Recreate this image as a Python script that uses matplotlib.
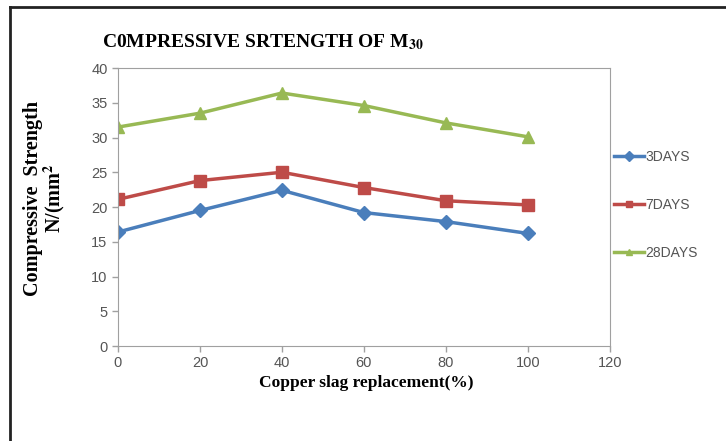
import matplotlib.pyplot as plt
from matplotlib.lines import Line2D

# data
replacement = [0, 20, 40, 60, 80, 100]
days3 = [16.4, 19.5, 22.4, 19.2, 17.9, 16.2]
days7 = [21.1, 23.8, 25.0, 22.8, 20.9, 20.3]
days28 = [31.5, 33.5, 36.4, 34.6, 32.1, 30.1]

series = [
    ('3DAYS', days3, '#4a7ebb', 'D', 7),
    ('7DAYS', days7, '#be4b48', 's', 8),
    ('28DAYS', days28, '#98b954', '^', 8),
]

plt.rcParams['mathtext.fontset'] = 'stix'
tick_font = ['Liberation Sans Narrow', 'Liberation Sans', 'DejaVu Sans']
serif = ['Liberation Serif', 'DejaVu Serif']

fig = plt.figure(figsize=(7.26, 4.41), dpi=100)
ax = fig.add_axes([0.1625, 0.2154, 0.6775, 0.6304])

for name, vals, col, mk, ms in series:
    ax.plot(replacement, vals, color=col, linewidth=2.5, marker=mk,
            markersize=ms, label=name)

ax.set_xlim(0, 120)
ax.set_ylim(0, 40)
ax.set_xticks(range(0, 121, 20))
ax.set_yticks(range(0, 41, 5))
for s in ax.spines.values():
    s.set_color('#a0a0a0')
ax.tick_params(colors='#a0a0a0', labelcolor='#555555', length=4, width=1,
               labelsize=10.5)
for lab in ax.get_xticklabels() + ax.get_yticklabels():
    lab.set_family(tick_font)

fig.text(0.362, 0.905, r'C0MPRESSIVE SRTENGTH OF M$_{\mathbf{30}}$',
         ha='center', va='center', fontsize=14, fontweight='bold',
         family=serif)
fig.text(0.062, 0.55, 'Compressive  Strength\n' + r'N/(mm$^{\mathbf{2}}$',
         rotation=90, ha='center', va='center', fontsize=14.5,
         fontweight='bold', family=serif, linespacing=0.95)
fig.text(0.505, 0.132, 'Copper slag replacement(%)', ha='center',
         va='center', fontsize=12.5, fontweight='bold', family=serif)

# legend outside right
handles = [Line2D([], [], color=c, linewidth=2.5, marker=m, markersize=5)
           for _, _, c, m, _ in series]
leg = fig.legend(handles, [s[0] for s in series], loc='center left',
                 bbox_to_anchor=(0.828, 0.535), frameon=False,
                 labelspacing=2.45, handlelength=2.2, handletextpad=0.1,
                 prop={'family': tick_font, 'size': 10})
for t in leg.get_texts():
    t.set_color('#555555')

# frame lines of the original picture
fig.add_artist(Line2D([0.014, 0.014], [0, 0.985], color='#222222', lw=2,
                      transform=fig.transFigure))
fig.add_artist(Line2D([0.014, 1.0], [0.985, 0.985], color='#222222', lw=2,
                      transform=fig.transFigure))

fig.savefig('out.png', dpi=100)
